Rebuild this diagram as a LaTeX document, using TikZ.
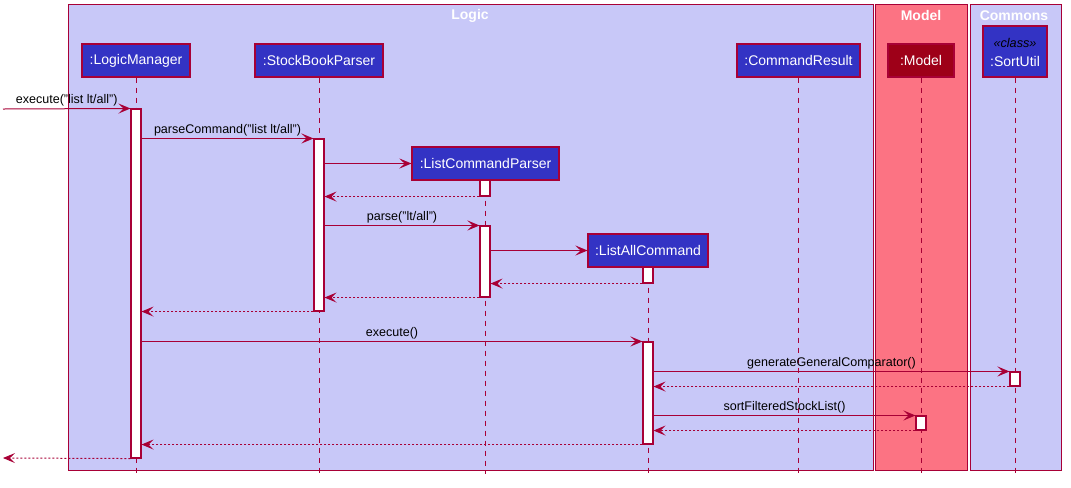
\documentclass[tikz,border=0pt]{standalone}
\usepackage{fontspec}
\setmainfont{Liberation Sans}
\usetikzlibrary{arrows.meta,fit}
\definecolor{umlborder}{HTML}{A80036}
\definecolor{lavender}{HTML}{C8C8F8}
\definecolor{modelpink}{HTML}{FC7383}
\definecolor{partblue}{HTML}{3333C4}
\definecolor{modelred}{HTML}{9E0018}
\tikzset{
  x=0.75pt, y=-0.75pt,
  group/.style={draw=umlborder, line width=0.75pt, inner sep=0pt},
  grouptitle/.style={text=white, font=\fontsize{10.5}{12}\selectfont\bfseries, inner sep=0pt},
  part/.style={draw=umlborder, line width=0.8pt, fill=partblue, inner sep=0pt},
  partlabel/.style={text=white, font=\fontsize{10.5}{12}\selectfont, inner sep=0pt},
  life/.style={draw=umlborder, line width=0.75pt, dash pattern=on 3.75pt off 3.75pt},
  act/.style={draw=umlborder, fill=white, line width=0.8pt, inner sep=0pt},
  msg/.style={draw=umlborder, line width=0.75pt,
    -{Stealth[length=9pt, width=7.5pt, inset=3.8pt]}},
  ret/.style={msg, dash pattern=on 1.5pt off 1.5pt},
  lbl/.style={font=\fontsize{9.4}{11}\selectfont, text=black, inner sep=0pt, anchor=south}
}
\begin{document}
\begin{tikzpicture}
\useasboundingbox (0,0) rectangle (1071,487);

% groups
\node[group, fill=lavender, fit={(68,4)(873,470)}] (logic) {};
\node[group, fill=modelpink, fit={(875,4)(967,470)}] (modelgrp) {};
\node[group, fill=lavender, fit={(970,4)(1061,470)}] (commons) {};
\node[grouptitle] (tlogic) at (470,15.5) {Logic};
\node[grouptitle] (tmodel) at (921,15.5) {Model};
\node[grouptitle] (tcommons) at (1014,15.5) {Commons};

% participants
\node[part, fit={(82,44)(190,77)}, label={[partlabel]center:{:LogicManager}}] (lm) {};
\node[part, fit={(255,44)(383,77)}, label={[partlabel]center:{:StockBookParser}}] (sbp) {};
\node[part, fit={(737,44)(860,77)}, label={[partlabel]center:{:CommandResult}}] (cr) {};
\node[part, fill=modelred, fit={(888,44)(954,77)}, label={[partlabel]center:{:Model}}] (mdl) {};
\node[part, fit={(983,26)(1047,77)}] (su) {};
\node[text=black, font=\fontsize{9.5}{11}\selectfont\itshape, inner sep=0pt] (sust) at (1015,43) {«class»};
\node[partlabel] (suname) at (1015,61) {:SortUtil};
\node[part, fit={(412,147)(559,180)}, label={[partlabel]center:{:ListCommandParser}}] (lcp) {};
\node[part, fit={(588,234)(708,267)}, label={[partlabel]center:{:ListAllCommand}}] (lac) {};

% lifelines
\draw[life] (lm.south) -- ++(0,396);
\draw[life] (sbp.south) -- ++(0,396);
\draw[life] (cr.south) -- ++(0,396);
\draw[life] (mdl.south) -- ++(0,396);
\draw[life] (su.south) -- ++(0,396);
\draw[life] (lcp.south) -- ++(0,293);
\draw[life] (lac.south) -- ++(0,206);

% activations
\node[act, fit={(131,109)(141,458)}] (alm) {};
\node[act, fit={(314,139)(324,311)}] (asbp) {};
\node[act, fit={(480,180)(490,196)}] (alcp1) {};
\node[act, fit={(480,226)(490,297)}] (alcp2) {};
\node[act, fit={(643,267)(653,283)}] (alac1) {};
\node[act, fit={(643,342)(653,444)}] (alac2) {};
\node[act, fit={(1010,372)(1020,386)}] (asu) {};
\node[act, fit={(916,416)(926,430)}] (amdl) {};

% outside endpoints
\coordinate (callin) at (3,109);
\coordinate (retout) at (3,458);

% messages
\draw[msg] (callin) -- node[lbl, above=1.5pt] {execute("list lt/all")} (alm.north west);
\draw[msg] (alm.east |- asbp.north) -- node[lbl, above=1.5pt] {parseCommand("list lt/all")} (asbp.north west);
\draw[msg] (asbp.east |- lcp.west) -- (lcp.west);
\draw[ret] (alcp1.south west) -- (asbp.east |- alcp1.south);
\draw[msg] (asbp.east |- alcp2.north) -- node[lbl, above=1.5pt] {parse("lt/all")} (alcp2.north west);
\draw[msg] (alcp2.east |- lac.west) -- (lac.west);
\draw[ret] (alac1.south west) -- (alcp2.east |- alac1.south);
\draw[ret] (alcp2.south west) -- (asbp.east |- alcp2.south);
\draw[ret] (asbp.south west) -- (alm.east |- asbp.south);
\draw[msg] (alm.east |- alac2.north) -- node[lbl, above=1.5pt] {execute()} (alac2.north west);
\draw[msg] (alac2.east |- asu.north) -- node[lbl, above=1.5pt] {generateGeneralComparator()} (asu.north west);
\draw[ret] (asu.south west) -- (alac2.east |- asu.south);
\draw[msg] (alac2.east |- amdl.north) -- node[lbl, above=1.5pt] {sortFilteredStockList()} (amdl.north west);
\draw[ret] (amdl.south west) -- (alac2.east |- amdl.south);
\draw[ret] (alac2.south west) -- (alm.east |- alac2.south);
\draw[ret] (alm.south west) -- (retout);
\end{tikzpicture}
\end{document}
